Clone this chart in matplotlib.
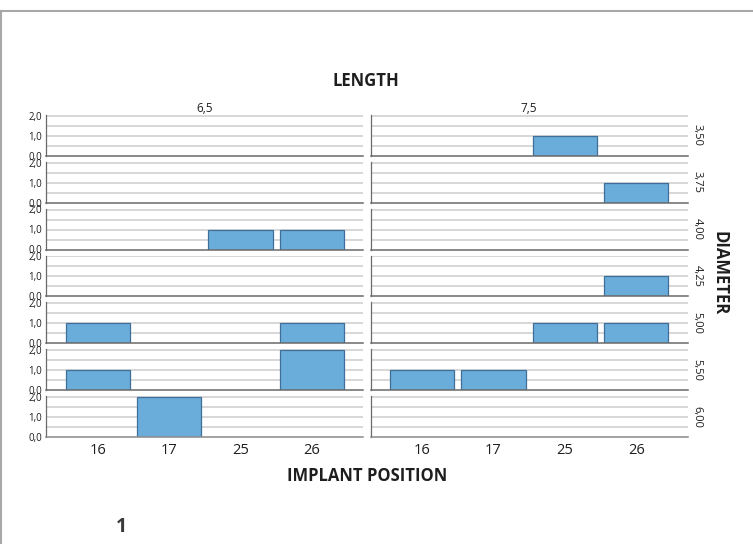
import matplotlib
matplotlib.use("Agg")
import matplotlib.pyplot as plt
from matplotlib.lines import Line2D

plt.rcParams['font.family'] = ['Open Sans', 'DejaVu Sans']

positions = ["16", "17", "25", "26"]
lengths = ["6,5", "7,5"]
diameters = ["3,50", "3,75", "4,00", "4,25", "5,00", "5,50", "6,00"]
counts_len_6_5 = [
    [0, 0, 0, 0],
    [0, 0, 0, 0],
    [0, 0, 1, 1],
    [0, 0, 0, 0],
    [1, 0, 0, 1],
    [1, 0, 0, 2],
    [0, 2, 0, 0],
]
counts_len_7_5 = [
    [0, 0, 1, 0],
    [0, 0, 0, 1],
    [0, 0, 0, 0],
    [0, 0, 0, 1],
    [0, 0, 1, 1],
    [1, 1, 0, 0],
    [0, 0, 0, 0],
]
yticks = [0, 1, 2]
ytick_labels = ["0,0", "1,0", "2,0"]

W, H = 753, 544
fig = plt.figure(figsize=(W / 100, H / 100), dpi=100)

bar_face = "#6aaddb"
bar_edge = "#3f6f98"
grid_col = "#d4d4d4"
spine_col = "#6a6a6a"
text_col = "#1e1e1e"

col_left_px = [46.3, 370.7]
col_w_px = 317.0
row_bottom0 = 155.7
row_pitch = 46.9
row_h_px = 40.8

data_cols = [counts_len_6_5, counts_len_7_5]
xpos = list(range(len(positions)))

for c, counts in enumerate(data_cols):
    for r, row in enumerate(counts):
        bottom_px = row_bottom0 + row_pitch * r
        ax = fig.add_axes([col_left_px[c] / W, 1 - bottom_px / H,
                           col_w_px / W, row_h_px / H])
        ax.set_xlim(-0.722, 3.722)
        ax.set_ylim(0, 2.04)
        for y in [0.5, 1.0, 1.5, 2.0]:
            ax.axhline(y, color=grid_col, lw=1.3, zorder=0)
        xs = [x for x, v in zip(xpos, row) if v > 0]
        vs = [v for v in row if v > 0]
        ax.bar(xs, vs, width=0.9, color=bar_face, edgecolor=bar_edge,
               linewidth=0.9, zorder=2)
        for s in ["top", "right"]:
            ax.spines[s].set_visible(False)
        ax.spines["left"].set_color(spine_col)
        ax.spines["left"].set_linewidth(0.9)
        ax.spines["bottom"].set_color("#8a8a8a" if r == len(counts) - 1 else spine_col)
        ax.spines["bottom"].set_linewidth(1.1)
        ax.set_yticks(yticks)
        if c == 0:
            ax.set_yticklabels(ytick_labels, fontsize=7, color=text_col)
        else:
            ax.set_yticklabels([])
        ax.tick_params(axis="y", length=0, pad=3)
        ax.set_xticks(xpos)
        if r == len(counts) - 1:
            ax.set_xticklabels(positions, fontsize=10.5, color=text_col)
        else:
            ax.set_xticklabels([])
        ax.tick_params(axis="x", length=0, pad=4)
        if r == 0:
            ax.text(0.5, 1.0, lengths[c], transform=ax.transAxes,
                    ha="center", va="bottom", fontsize=8.5, color=text_col)
        if c == 1:
            ax.text(1.03, 0.5, diameters[r], transform=ax.transAxes,
                    ha="center", va="center", rotation=270, fontsize=8,
                    color=text_col)

def fx(px):
    return px / W

def fy(py):
    return 1 - py / H

fig.text(fx(366), fy(81), "LENGTH", ha="center", va="center",
         fontsize=12, fontweight="bold", color=text_col)
fig.text(fx(367), fy(476), "IMPLANT POSITION", ha="center", va="center",
         fontsize=12, fontweight="bold", color=text_col)
fig.text(fx(720), fy(273), "DIAMETER", ha="center", va="center",
         rotation=270, fontsize=12, fontweight="bold", color=text_col)
fig.text(fx(121), fy(527), "1", ha="center", va="center",
         fontsize=14, fontweight="bold", color="#3a3a3a")

fig.add_artist(Line2D([0, 1], [fy(10.5), fy(10.5)], transform=fig.transFigure,
                      color="#a8a8a8", lw=1.5))
fig.add_artist(Line2D([fx(1), fx(1)], [fy(10.5), 0], transform=fig.transFigure,
                      color="#a8a8a8", lw=1.5))

fig.savefig("out.png", dpi=100)
